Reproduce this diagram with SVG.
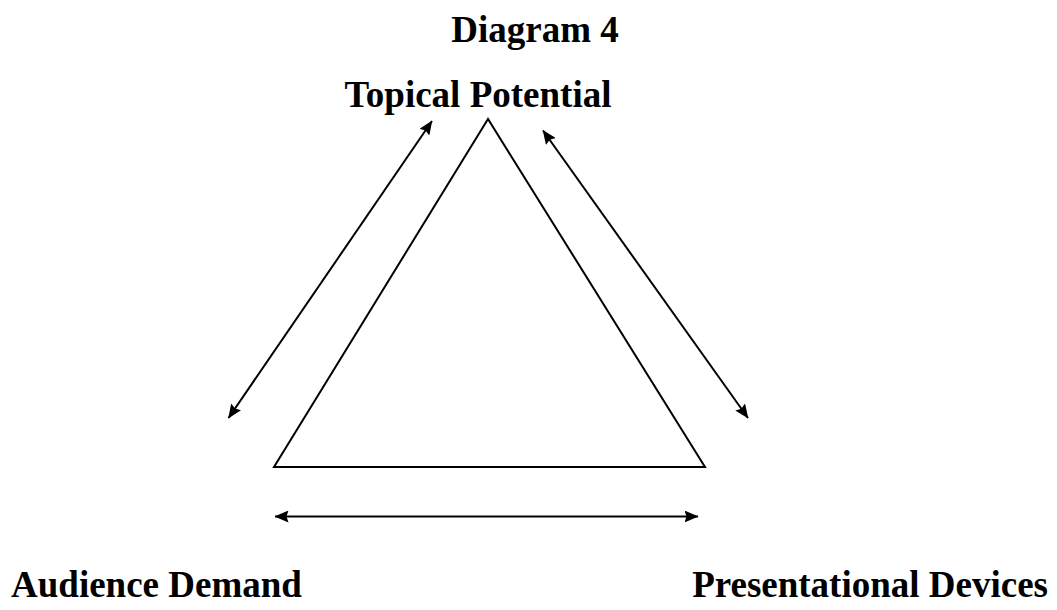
<svg xmlns="http://www.w3.org/2000/svg" width="1057" height="610" viewBox="0 0 1057 610">
<defs>
<marker id="ah" viewBox="0 0 14 12" refX="13.5" refY="6" markerWidth="14" markerHeight="12" markerUnits="userSpaceOnUse" orient="auto-start-reverse">
<path d="M0,0 L14,6 L0,12 L2,6 z" fill="#000"/>
</marker>
<style>
.t{font-family:"Liberation Serif","Times New Roman",serif;font-weight:bold;font-size:37px;fill:#000}
.c{stroke:#000;stroke-width:2;fill:none;marker-start:url(#ah);marker-end:url(#ah)}
</style>
</defs>
<rect width="1057" height="610" fill="#fff"/>
<text class="t" x="535" y="42" text-anchor="middle">Diagram 4</text>
<g id="topical"><text class="t" x="478" y="107" text-anchor="middle">Topical Potential</text></g>
<g id="audience"><text class="t" x="11" y="597">Audience Demand</text></g>
<g id="presentational"><text class="t" x="1048" y="597" text-anchor="end">Presentational Devices</text></g>
<g id="triangle"><polygon points="488,119 274,467 705,467" fill="none" stroke="#000" stroke-width="2"/></g>
<g id="connectors">
<line class="c" x1="228.5" y1="418" x2="432" y2="121"/>
<line class="c" x1="543" y1="130.5" x2="748" y2="418"/>
<line class="c" x1="275" y1="516.5" x2="698" y2="516.5"/>
</g>
</svg>
